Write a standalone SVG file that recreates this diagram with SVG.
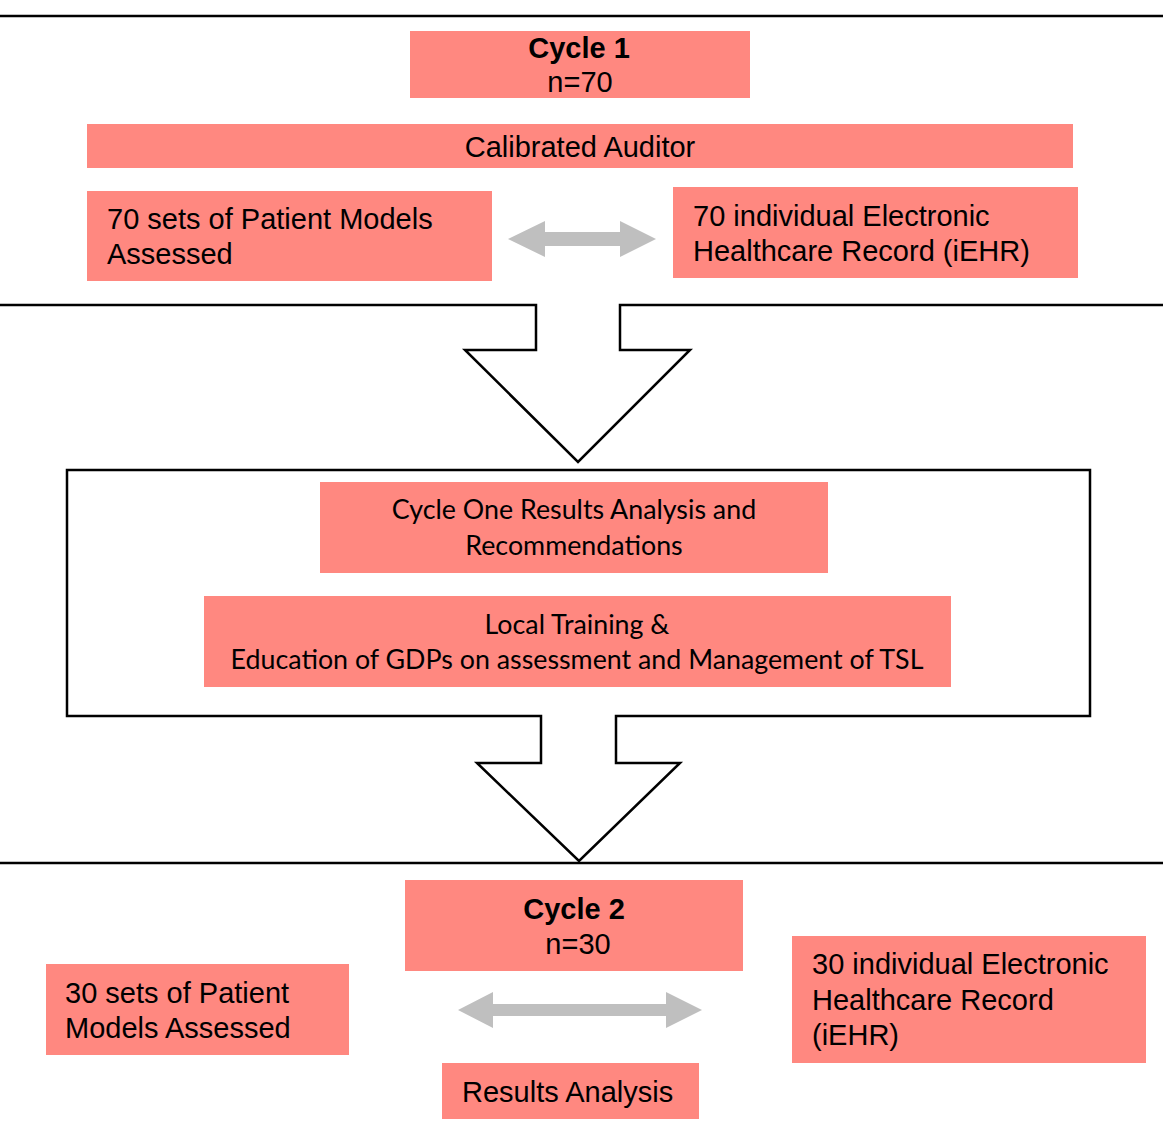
<svg xmlns="http://www.w3.org/2000/svg" width="1163" height="1131" viewBox="0 0 1163 1131">
<style>
.box{fill:#FF8880;}
.a{font-family:"Liberation Sans",Arial,sans-serif;font-size:29px;fill:#000;}
.b{font-weight:bold;}
.c{font-family:Lato,"Open Sans",sans-serif;font-size:26.8px;fill:#000;}
.ln{fill:none;stroke:#000;stroke-width:2.5;}
.blk{fill:#fff;stroke:#000;stroke-width:2.5;stroke-linejoin:miter;}
.dbl{fill:#BFBFBF;}
</style>
<rect width="1163" height="1131" fill="#fff"/>
<g id="connectors">
<line class="ln" x1="0" y1="16" x2="1163" y2="16"/>
<path class="blk" d="M0,305 H536 V350 H465 L578,462 L690,350 H620 V305 H1163"/>
<path class="blk" d="M541,716 H67 V470 H1090 V716 H616 V763 H680 L579,861 L477,763 H541 Z"/>
<line class="ln" x1="0" y1="863" x2="1163" y2="863"/>
<path class="dbl" d="M508,239 L545,221 V232 H620 V221 L656,239 L620,257 V246 H545 V257 Z"/>
<path class="dbl" d="M458,1010 L493,992 V1004 H666 V992 L702,1010 L666,1028 V1016 H493 V1028 Z"/>
</g>
<g id="cycle1">
<rect class="box" x="410" y="31" width="340" height="67"/>
<text class="a b" x="579" y="58" text-anchor="middle">Cycle 1</text>
<text class="a" x="580" y="92" text-anchor="middle">n=70</text>
</g>
<g id="calibrated-auditor">
<rect class="box" x="87" y="124" width="986" height="44"/>
<text class="a" x="580" y="157" text-anchor="middle">Calibrated Auditor</text>
</g>
<g id="patient-models-70">
<rect class="box" x="87" y="191" width="405" height="90"/>
<text class="a" x="107" y="229">70 sets of Patient Models</text>
<text class="a" x="107" y="264">Assessed</text>
</g>
<g id="iehr-70">
<rect class="box" x="673" y="187" width="405" height="91"/>
<text class="a" x="693" y="226">70 individual Electronic</text>
<text class="a" x="693" y="261">Healthcare Record (iEHR)</text>
</g>
<g id="cycle-one-results">
<rect class="box" x="320" y="482" width="508" height="91"/>
<text class="c" x="574" y="519" text-anchor="middle">Cycle One Results Analysis and</text>
<text class="c" x="574" y="555" text-anchor="middle">Recommendations</text>
</g>
<g id="local-training">
<rect class="box" x="204" y="596" width="747" height="91"/>
<text class="c" x="577" y="634" text-anchor="middle">Local Training &amp;</text>
<text class="c" x="577" y="669" text-anchor="middle">Education of GDPs on assessment and Management of TSL</text>
</g>
<g id="cycle2">
<rect class="box" x="405" y="880" width="338" height="91"/>
<text class="a b" x="574" y="919" text-anchor="middle">Cycle 2</text>
<text class="a" x="578" y="954" text-anchor="middle">n=30</text>
</g>
<g id="patient-models-30">
<rect class="box" x="46" y="964" width="303" height="91"/>
<text class="a" x="65" y="1003">30 sets of Patient</text>
<text class="a" x="65" y="1038">Models Assessed</text>
</g>
<g id="iehr-30">
<rect class="box" x="792" y="936" width="354" height="127"/>
<text class="a" x="812" y="974">30 individual Electronic</text>
<text class="a" x="812" y="1010">Healthcare Record</text>
<text class="a" x="812" y="1045">(iEHR)</text>
</g>
<g id="results-analysis">
<rect class="box" x="442" y="1063" width="257" height="56"/>
<text class="a" x="462" y="1102">Results Analysis</text>
</g>
</svg>
